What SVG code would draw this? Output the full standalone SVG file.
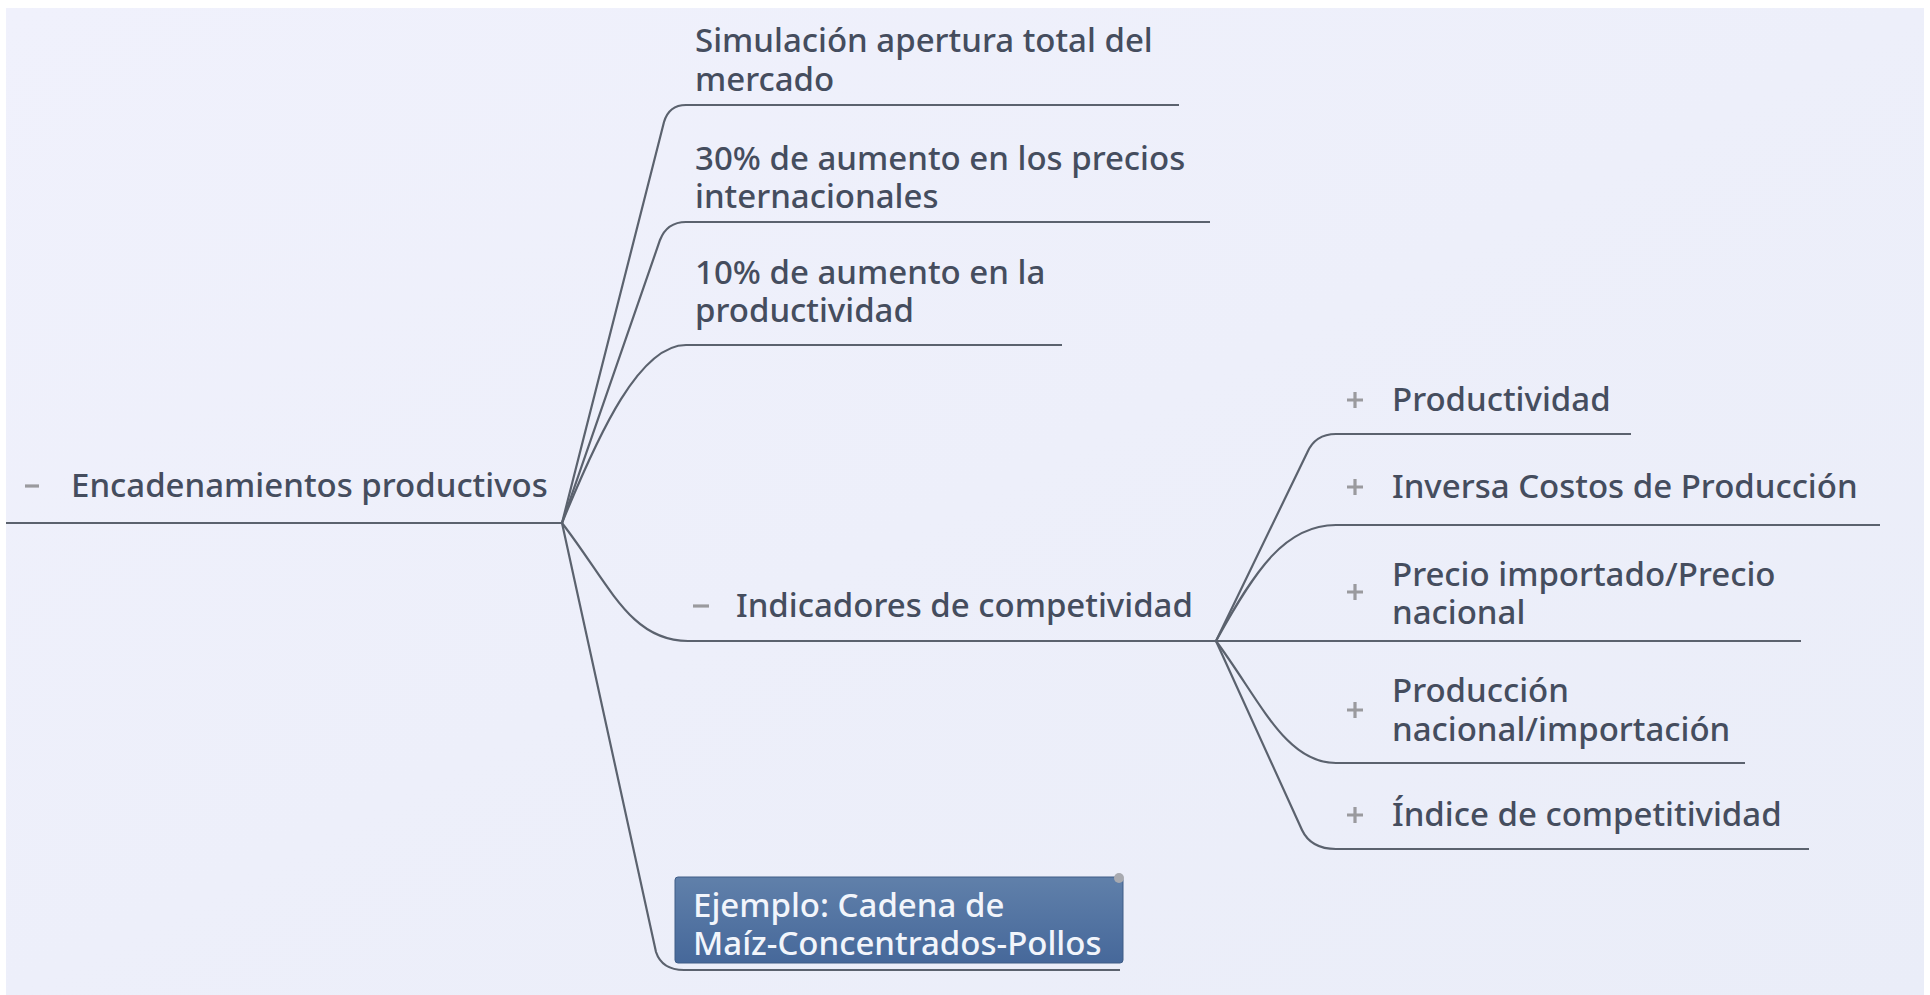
<svg xmlns="http://www.w3.org/2000/svg" width="1930" height="995" viewBox="0 0 1930 995">
<defs>
<linearGradient id="bg" x1="0" y1="0" x2="1" y2="1">
<stop offset="0" stop-color="#F0F1FC"/>
<stop offset="1" stop-color="#EAEDF8"/>
</linearGradient>
<linearGradient id="box" x1="0" y1="0" x2="0" y2="1">
<stop offset="0" stop-color="#6080AA"/>
<stop offset="1" stop-color="#46689A"/>
</linearGradient>
<style>
.t{font-family:"Noto Sans","Open Sans",sans-serif;font-size:33px;fill:#454D5E;font-weight:500;}
.w{font-family:"Noto Sans","Open Sans",sans-serif;font-size:33px;fill:#F2F5FB;font-weight:500;}
.c{fill:none;stroke:#5B626E;stroke-width:2.2;}
.s{stroke:#9A9A9E;stroke-width:3.2;fill:none;}
</style>
</defs>
<rect x="0" y="0" width="1930" height="995" fill="#FFFFFF"/>
<rect x="6" y="8" width="1918" height="987" fill="url(#bg)"/>

<g id="connectors">
<path class="c" d="M6,523 H562"/>
<path class="c" d="M562,523 L664,122 Q669,105 686,105 H1179"/>
<path class="c" d="M562,523 L660,240 Q667,222 686,222 H1210"/>
<path class="c" d="M562,523 C600,430 640,345 686,345 H1062"/>
<path class="c" d="M562,523 C610,585 630,641 688,641 H1216"/>
<path class="c" d="M562,523 L656,952 Q662,970 684,970 H1120"/>
<path class="c" d="M1216,641 L1307,453 Q1315,434 1336,434 H1631"/>
<path class="c" d="M1216,641 C1255,570 1285,525 1336,525 H1880"/>
<path class="c" d="M1216,641 H1801"/>
<path class="c" d="M1216,641 C1260,700 1285,763 1336,763 H1745"/>
<path class="c" d="M1216,641 L1302,830 Q1311,849 1336,849 H1809"/>
</g>

<g id="root">
<path class="s" d="M25,486 H39"/>
<text class="t" x="71" y="497">Encadenamientos productivos</text>
</g>

<g id="n1">
<text class="t" x="695" y="52">Simulación apertura total del<tspan x="695" dy="39">mercado</tspan></text>
</g>

<g id="n2">
<text class="t" x="695" y="170">30% de aumento en los precios<tspan x="695" dy="38">internacionales</tspan></text>
</g>

<g id="n3">
<text class="t" x="695" y="284">10% de aumento en la<tspan x="695" dy="38">productividad</tspan></text>
</g>

<g id="n4">
<path class="s" d="M693,606 H709"/>
<text class="t" x="736" y="617">Indicadores de competividad</text>
</g>

<g id="n5">
<rect x="675" y="877" width="448" height="86" rx="3" fill="url(#box)" stroke="#3E5C86" stroke-width="1"/>
<circle cx="1119" cy="878" r="5" fill="#A8AAB0"/>
<text class="w" x="693" y="917">Ejemplo: Cadena de<tspan x="693" dy="38">Maíz-Concentrados-Pollos</tspan></text>
</g>

<g id="s1">
<path class="s" d="M1347,400 H1363 M1355,392 V408"/>
<text class="t" x="1392" y="411">Productividad</text>
</g>

<g id="s2">
<path class="s" d="M1347,487 H1363 M1355,479 V495"/>
<text class="t" x="1392" y="498">Inversa Costos de Producción</text>
</g>

<g id="s3">
<path class="s" d="M1347,592 H1363 M1355,584 V600"/>
<text class="t" x="1392" y="586">Precio importado/Precio<tspan x="1392" dy="38">nacional</tspan></text>
</g>

<g id="s4">
<path class="s" d="M1347,710 H1363 M1355,702 V718"/>
<text class="t" x="1392" y="702">Producción<tspan x="1392" dy="39">nacional/importación</tspan></text>
</g>

<g id="s5">
<path class="s" d="M1347,815 H1363 M1355,807 V823"/>
<text class="t" x="1392" y="826">Índice de competitividad</text>
</g>
</svg>
